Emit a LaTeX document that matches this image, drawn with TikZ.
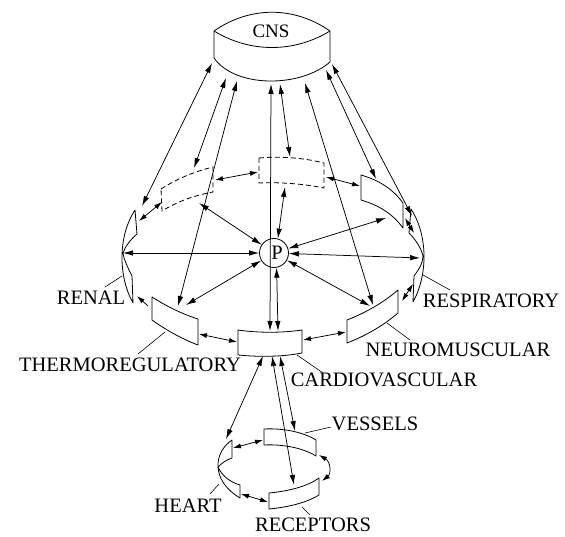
\documentclass[tikz,border=0pt]{standalone}
\usepackage{fontspec}
\setmainfont{Liberation Serif}
\usetikzlibrary{arrows.meta}
\begin{document}
\begin{tikzpicture}[x=1pt,y=-1pt,
  panel/.style={line width=0.8pt, line join=round},
  dpanel/.style={line width=0.8pt, dash pattern=on 5pt off 3pt},
  link/.style={{Latex[length=10pt,width=5.5pt]}-{Latex[length=10pt,width=5.5pt]}, line width=0.75pt},
  slink/.style={{Latex[length=8pt,width=5pt]}-{Latex[length=8pt,width=5pt]}, line width=0.75pt},
  olink/.style={-{Latex[length=8pt,width=5pt]}, line width=0.75pt},
  lead/.style={line width=0.6pt},
  lbl/.style={font=\fontsize{20.5}{24}\selectfont, inner sep=0pt}
]
\useasboundingbox (0,0) rectangle (565,537);

% ---------- CNS ----------
\draw[panel] (214,31) .. controls (250,6) and (294,6) .. (330,31)
             .. controls (294,53) and (250,53) .. (214,31) -- (214,58)
             .. controls (235,88) and (300,88) .. (330,62) -- (330,31);
\node[lbl,font=\fontsize{19}{22}\selectfont] (cns) at (271,31) {CNS};

% ---------- P ----------
\node[circle, draw, line width=0.8pt, minimum size=29pt, inner sep=0pt, lbl] (P) at (274,253) {\hspace*{6pt}P};

% ---------- ring panels ----------
% upper-left dashed
\draw[dpanel] (161,189) .. controls (180,177) and (197,171) .. (213,167) -- (213,192)
              .. controls (197,195) and (180,200) .. (162,211) -- cycle;
% top dashed
\draw[dpanel] (259,158) .. controls (280,156) and (305,158) .. (324,163) -- (324,188)
              .. controls (305,184) and (280,182) .. (259,183) -- cycle;
% upper right
\draw[panel] (361,175) .. controls (378,180) and (392,188) .. (403,203) -- (403,228)
             .. controls (392,213) and (378,205) .. (361,200) -- cycle;
% respiratory (edge-on, right)
\draw[panel] (411,209) .. controls (428,235) and (428,275) .. (413,302) -- (414,276)
             .. controls (420,268) and (423,262) .. (423,256)
             .. controls (421,248) and (416,240) .. (409,233) -- cycle;
% renal (edge-on, left)
\draw[panel] (135,210) .. controls (118,236) and (118,276) .. (133,303) -- (132,276)
             .. controls (128,268) and (124,260) .. (123,253)
             .. controls (125,247) and (130,240) .. (137,234) -- cycle;
% neuromuscular
\draw[panel] (347,320) .. controls (365,313) and (383,303) .. (398,290) -- (398,313)
             .. controls (383,326) and (365,336) .. (347,343) -- cycle;
% cardiovascular
\draw[panel] (238,330) .. controls (258,333) and (282,333) .. (302,330) -- (302,353)
             .. controls (282,357) and (258,357) .. (238,355) -- cycle;
% thermoregulatory
\draw[panel] (152,297) .. controls (166,306) and (182,314) .. (198,319) -- (198,345)
             .. controls (182,339) and (166,330) .. (152,320) -- cycle;

% ---------- lower ring panels ----------
% vessels
\draw[panel] (264,429) .. controls (283,428) and (303,432) .. (316,440) -- (316,456)
             .. controls (303,448) and (283,444) .. (264,445) -- cycle;
% receptors
\draw[panel] (269,493) .. controls (290,491) and (308,486) .. (319,478) -- (319,495)
             .. controls (308,502) and (290,507) .. (269,509) -- cycle;
% heart
\draw[panel] (232,440) .. controls (214,452) and (210,480) .. (240,498) -- (240,485)
             .. controls (230,482) and (222,476) .. (218,467)
             .. controls (222,463) and (226,460) .. (232,458) -- cycle;

% ---------- labels ----------
\node[lbl] (renal) at (91,298) {RENAL};
\node[lbl] (resp) at (491,301) {RESPIRATORY};
\node[lbl] (thermo) at (130,365) {THERMOREGULATORY};
\node[lbl] (neuro) at (458,350) {NEUROMUSCULAR};
\node[lbl] (cardio) at (384,380) {CARDIOVASCULAR};
\node[lbl] (vessels) at (375,424) {VESSELS};
\node[lbl] (heart) at (188,506) {HEART};
\node[lbl] (recept) at (313,525) {RECEPTORS};

% ---------- leaders ----------
\coordinate (lRen1) at (122,276); \coordinate (lRen2) at (105,287);
\coordinate (lRes1) at (423,275); \coordinate (lRes2) at (450,290);
\coordinate (lTh1) at (165,332);  \coordinate (lTh2) at (138,354);
\coordinate (lNm1) at (387,323);  \coordinate (lNm2) at (410,340);
\coordinate (lCv1) at (297,355);  \coordinate (lCv2) at (323,373);
\coordinate (lVs1) at (305,433);  \coordinate (lVs2) at (331,427);
\coordinate (lHt1) at (219,484);  \coordinate (lHt2) at (210,494);
\coordinate (lRc1) at (302,507);  \coordinate (lRc2) at (310,515);
\foreach \a/\b in {lRen1/lRen2,lRes1/lRes2,lTh1/lTh2,lNm1/lNm2,lCv1/lCv2,lVs1/lVs2,lHt1/lHt2,lRc1/lRc2}
  \draw[lead] (\a) -- (\b);

% ---------- connection points ----------
\coordinate (cnsA) at (212,63);  \coordinate (renT) at (142,206);
\coordinate (cnsB) at (226,78);  \coordinate (dlT) at (194,168);
\coordinate (cnsC) at (237,81);  \coordinate (thT1) at (178,306);
\coordinate (cnsD) at (271,84);  \coordinate (cvT1) at (270,331);
\coordinate (cnsE) at (280,84);  \coordinate (dtT) at (290,157);
\coordinate (cnsF) at (305,83);  \coordinate (nmT1) at (373,305);
\coordinate (cnsG) at (326,70);  \coordinate (urT) at (376,179);
\coordinate (cnsH) at (332,64);  \coordinate (resT) at (412,216);

\coordinate (dlB) at (199,203);
\coordinate (dtB) at (285,187);
\coordinate (urB) at (386,218);
\coordinate (resM) at (420,258);
\coordinate (nmT2) at (370,306);
\coordinate (cvT2) at (278,331);
\coordinate (thT2) at (186,305);
\coordinate (renM) at (123,253);

\coordinate (renU) at (139,221); \coordinate (dlL) at (162,202);
\coordinate (dlR) at (215,180);  \coordinate (dtL) at (258,172);
\coordinate (dtR) at (326,177);  \coordinate (urL) at (360,186);
\coordinate (urR) at (405,218);  \coordinate (resU) at (414,233);
\coordinate (resD) at (413,284); \coordinate (nmR) at (402,301);
\coordinate (nmL) at (346,332);  \coordinate (cvR) at (303,340);
\coordinate (cvL) at (237,342);  \coordinate (thR) at (199,334);
\coordinate (thL) at (148,306);  \coordinate (renD) at (137,296);

\coordinate (cvB1) at (263,356); \coordinate (htT) at (226,439);
\coordinate (cvB2) at (272,356); \coordinate (rcT) at (294,485);
\coordinate (cvB3) at (280,356); \coordinate (vsT) at (295,431);
\coordinate (htR) at (233,448);  \coordinate (vsL) at (263,440);
\coordinate (vsR) at (319,455);  \coordinate (rcR) at (322,481);
\coordinate (htB) at (241,494);  \coordinate (rcL) at (268,502);

% ---------- connectors from CNS ----------
\draw[link] (cnsA) -- (renT);
\draw[link] (cnsB) -- (dlT);
\draw[link] (cnsC) -- (thT1);
\draw[link] (cnsD) -- (cvT1);
\draw[link] (cnsE) -- (dtT);
\draw[link] (cnsF) -- (nmT1);
\draw[link] (cnsG) -- (urT);
\draw[link] (cnsH) -- (resT);

% ---------- connectors from P ----------
\draw[link] (P) -- (dlB);
\draw[link] (P.75) -- (dtB);
\draw[link] (P) -- (urB);
\draw[link] (P) -- (resM);
\draw[link] (P) -- (nmT2);
\draw[link] (P.-80) -- (cvT2);
\draw[link] (P) -- (thT2);
\draw[link] (P) -- (renM);

% ---------- ring connectors ----------
\draw[slink] (renU) -- (dlL);
\draw[slink] (dlR) -- (dtL);
\draw[slink] (dtR) -- (urL);
\draw[slink] (urR) -- (resU);
\draw[slink] (resD) -- (nmR);
\draw[slink] (nmL) -- (cvR);
\draw[slink] (cvL) -- (thR);
\draw[olink] (thL) -- (renD);

% ---------- lower connectors ----------
\draw[link] (cvB1) -- (htT);
\draw[link] (cvB2) -- (rcT);
\draw[link] (cvB3) -- (vsT);
\draw[slink] (htR) -- (vsL);
\draw[slink] (vsR) .. controls (331,462) and (331,474) .. (rcR);
\draw[slink] (htB) -- (rcL);
\end{tikzpicture}
\end{document}
